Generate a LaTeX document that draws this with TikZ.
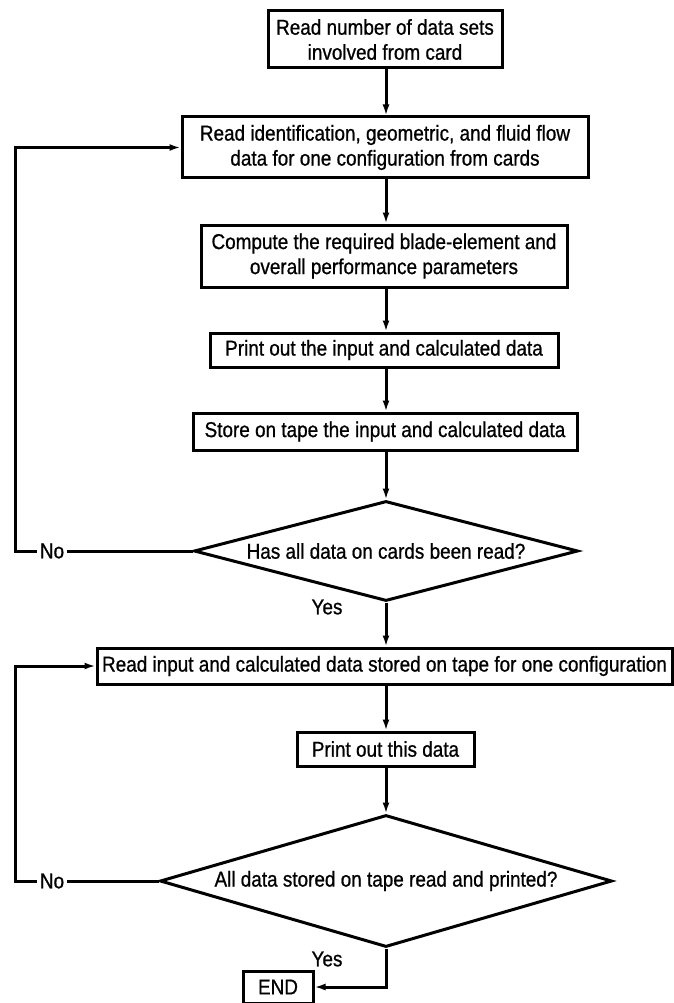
\documentclass[tikz,border=0pt]{standalone}
\usepackage{fontspec}
\setmainfont{Liberation Sans}[FakeStretch=0.88,FakeBold=0.8]
\usetikzlibrary{shapes.geometric,arrows.meta}
\begin{document}
\begin{tikzpicture}[x=1pt,y=-1pt,
  every node/.style={font=\fontsize{21.5}{25}\selectfont},
  procbox/.style={draw, line width=3pt, align=center, inner sep=0pt},
  decision/.style={draw, diamond, line width=3pt, inner sep=0pt, align=center},
  label/.style={inner sep=3pt},
  flow/.style={line width=3pt, -{Latex[length=11pt,width=7pt]}},
  link/.style={line width=3pt}]
\useasboundingbox (0,0) rectangle (674,1003);
\coordinate (ax) at (386,0);

% process steps
\node[procbox, minimum width=234pt, minimum height=57pt] (b1) at (385,39.5)
  {Read number of data sets\\involved from card};
\node[procbox, minimum width=406pt, minimum height=61pt] (b2) at (385,147.5)
  {Read identification, geometric, and fluid flow\\data for one configuration from cards};
\node[procbox, minimum width=366pt, minimum height=62pt] (b3) at (384,256)
  {Compute the required blade-element and\\overall performance parameters};
\node[procbox, minimum width=348pt, minimum height=34pt] (b4) at (384,350)
  {Print out the input and calculated data};
\node[procbox, minimum width=384pt, minimum height=37pt] (b5) at (385,431.5)
  {Store on tape the input and calculated data};
\node[decision, minimum width=384pt, minimum height=100pt, aspect=3.84] (d1) at (386,551)
  {Has all data on cards been read?};
\node[procbox, minimum width=575pt, minimum height=36pt] (b6) at (384.5,666)
  {Read input and calculated data stored on tape for one configuration};
\node[procbox, minimum width=177pt, minimum height=34pt] (b7) at (385.5,749)
  {Print out this data};
\node[decision, minimum width=452pt, minimum height=132pt, aspect=3.42] (d2) at (386,881)
  {All data stored on tape read and printed?};
\node[procbox, minimum width=70pt, minimum height=32pt] (en) at (278,987) {END};

% branch labels
\node[label] (no1) at (52,551) {No};
\node[label] (no2) at (52,881) {No};
\node[label] (yes1) at (327,607) {Yes};
\node[label] (yes2) at (327,959) {Yes};

% main flow
\draw[flow] (b1.south -| ax) -- (b2.north -| ax);
\draw[flow] (b2.south -| ax) -- (b3.north -| ax);
\draw[flow] (b3.south -| ax) -- (b4.north -| ax);
\draw[flow] (b4.south -| ax) -- (b5.north -| ax);
\draw[flow] (b5.south -| ax) -- (d1.north);
\draw[flow] (d1.south) -- (b6.north -| d1.south);
\draw[flow] (b6.south -| ax) -- (b7.north -| ax);
\draw[flow] (b7.south -| ax) -- (d2.north);
\draw[flow] (d2.south) |- (en.east);

% return loops
\coordinate (c1) at (15,551);
\coordinate (c2) at (15,881);
\draw[link] (d1.west) -- (no1.east);
\draw[flow] (no1.west) -- (c1) |- (b2.west);
\draw[link] (d2.west) -- (no2.east);
\draw[flow] (no2.west) -- (c2) |- (b6.west);
\end{tikzpicture}
\end{document}
